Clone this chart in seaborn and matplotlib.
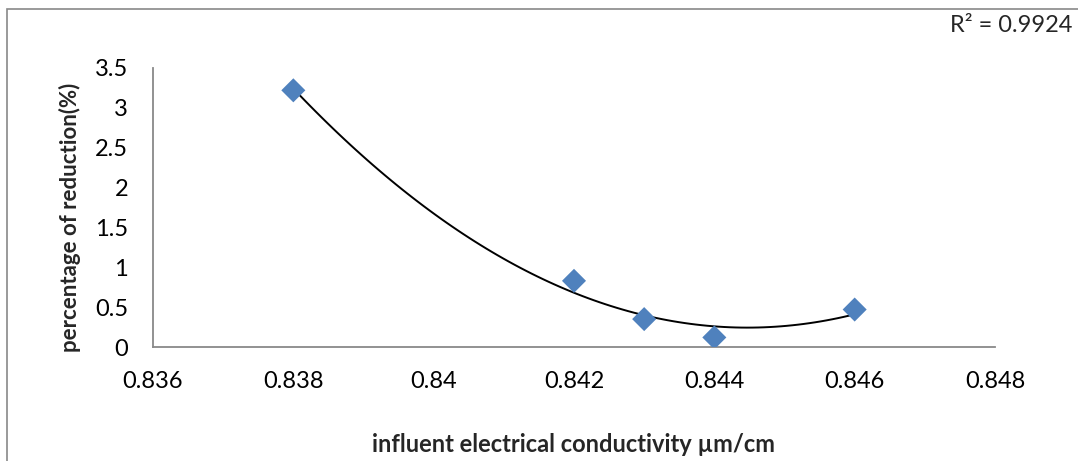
import numpy as np
import pandas as pd
import matplotlib
matplotlib.use("Agg")
import matplotlib.pyplot as plt
import seaborn as sns
from matplotlib.patches import Rectangle

# === DATA ===
conductivity = [0.838, 0.842, 0.843, 0.844, 0.846]
reduction = [3.22, 0.83, 0.35, 0.12, 0.47]
r2_label = "R² = 0.9924"
x_ticks = [0.836, 0.838, 0.84, 0.842, 0.844, 0.846, 0.848]
y_ticks = [0, 0.5, 1, 1.5, 2, 2.5, 3, 3.5]

df = pd.DataFrame({"ec": conductivity, "red": reduction})

sns.set_style("white")
plt.rcParams["font.family"] = ["Lato", "DejaVu Sans"]

GREY = "#898989"
BLUE = "#4F81BD"

fig = plt.figure(figsize=(10.78, 4.61), dpi=100)
ax = fig.add_axes([153 / 1078, 1 - 347 / 461, (995 - 153) / 1078, (347 - 68) / 461])

# polynomial (order 2) trendline over the data range
sns.regplot(data=df, x="ec", y="red", order=2, ci=None, scatter=False,
            truncate=True, line_kws={"color": "black", "lw": 1.4}, ax=ax)
sns.scatterplot(data=df, x="ec", y="red", marker="D", s=150, color=BLUE,
                edgecolor="none", zorder=3, ax=ax)

ax.set_xlim(0.836, 0.848)
ax.set_ylim(0, 3.5)
ax.set_xticks(x_ticks)
ax.set_xticklabels([f"{v:g}" for v in x_ticks])
ax.set_yticks(y_ticks)
ax.set_yticklabels([f"{v:g}" for v in y_ticks])

for side in ["top", "right"]:
    ax.spines[side].set_visible(False)
for side in ["left", "bottom"]:
    ax.spines[side].set_color(GREY)
    ax.spines[side].set_linewidth(1.3)
ax.tick_params(axis="both", direction="out", length=7, width=1.3, color=GREY,
               labelsize=17, labelcolor="black")
ax.tick_params(axis="x", pad=10)
ax.tick_params(axis="y", pad=11)

ax.set_xlabel("influent electrical conductivity µm/cm", fontsize=17,
              fontweight="bold", labelpad=30)
ax.set_ylabel("percentage of reduction(%)", fontsize=16, fontweight="bold",
              labelpad=11)
ax.yaxis.set_label_coords(-0.086, 0.465)

fig.text(1072 / 1078, 1 - 26 / 461, r2_label, ha="right", va="center", fontsize=17)

# outer chart frame
fig.patches.append(Rectangle((7 / 1078, -0.1), 1.2, 1 - 9 / 461 + 0.1,
                             transform=fig.transFigure, fill=False,
                             edgecolor=GREY, lw=1.2))

fig.savefig("out.png", dpi=100)
